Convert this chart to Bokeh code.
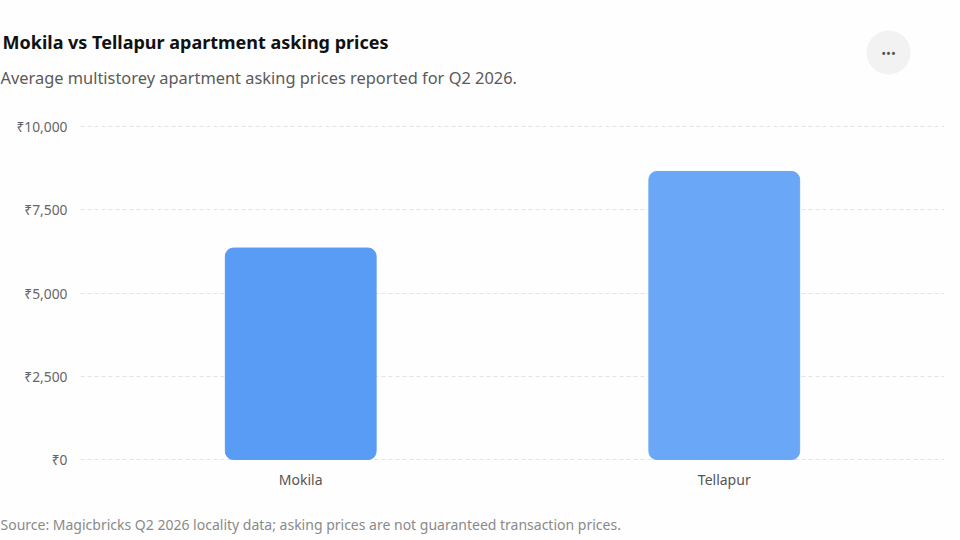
from bokeh.plotting import figure
from bokeh.layouts import column, row
from bokeh.models import ColumnDataSource, Label, FixedTicker, FactorRange, Range1d
from bokeh.embed import file_html
from bokeh.resources import INLINE

# ---- data ----
localities = ["Mokila", "Tellapur"]
asking_price = [6350, 8650]
bar_colors = ["#589cf5", "#6aa8f7"]
y_ticks = [0, 2500, 5000, 7500, 10000]
y_tick_labels = ["₹0", "₹2,500", "₹5,000", "₹7,500", "₹10,000"]

title_text = "Mokila vs Tellapur apartment asking prices"
subtitle_text = "Average multistorey apartment asking prices reported for Q2 2026."
source_text = "Source: Magicbricks Q2 2026 locality data; asking prices are not guaranteed transaction prices."

FONT = "Noto Sans"
BG = "#fefefe"
W = 960


def blank(height):
    f = figure(width=W, height=height, x_range=Range1d(0, W), y_range=Range1d(height, 0),
               output_backend="svg", toolbar_location=None, title=None,
               x_axis_location=None, y_axis_location=None,
               min_border=0, min_border_left=0, min_border_right=0,
               min_border_top=0, min_border_bottom=0)
    f.grid.grid_line_color = None
    f.outline_line_color = None
    f.background_fill_color = BG
    f.border_fill_color = BG
    return f


# ---- header: title, subtitle, menu button ----
HEADER_H = 104
header = blank(HEADER_H)
header.add_layout(Label(x=2, y=41, text=title_text, text_font=FONT, text_font_size="18px",
                        text_font_style="bold", text_color="#111111", text_baseline="middle"))
header.add_layout(Label(x=0, y=77, text=subtitle_text, text_font=FONT, text_font_size="16.4px",
                        text_color="#5a5a5a", text_baseline="middle"))
header.scatter(x=[888], y=[52], size=44, marker="circle", fill_color="#f2f2f2", line_color=None)
header.add_layout(Label(x=888, y=52, text="•••", text_font=FONT, text_font_size="13px",
                        text_color="#555555", text_align="center", text_baseline="middle"))

# ---- main chart ----
src = ColumnDataSource(dict(x=localities, top=asking_price, color=bar_colors))

p = figure(
    x_range=FactorRange(*localities, range_padding=0.02),
    y_range=Range1d(-30, 10030),
    width=W, height=392,
    output_backend="svg", toolbar_location=None, title=None,
    min_border_left=80, min_border_right=16, min_border_top=21, min_border_bottom=36,
)
p.background_fill_color = BG
p.border_fill_color = BG
p.outline_line_color = None

p.vbar(x="x", top="top", bottom=0, width=0.356, source=src, fill_color="color",
       line_color="color", border_radius=8)

p.yaxis.ticker = FixedTicker(ticks=y_ticks)
p.yaxis.major_label_overrides = {t: l for t, l in zip(y_ticks, y_tick_labels)}
for ax in (p.xaxis, p.yaxis):
    ax.axis_line_color = None
    ax.major_tick_line_color = None
    ax.minor_tick_line_color = None
    ax.major_tick_out = 0
    ax.major_tick_in = 0
    ax.minor_tick_out = 0
    ax.major_label_text_font = FONT
    ax.major_label_text_color = "#666666"
p.yaxis.major_label_text_font_size = "13.8px"
p.xaxis.major_label_text_font_size = "14px"
p.yaxis.major_label_standoff = 13
p.xaxis.major_label_standoff = 9
p.xaxis.major_label_text_color = "#555555"

p.xgrid.grid_line_color = None
p.ygrid.grid_line_color = "#e3e3e3"
p.ygrid.grid_line_dash = "4 3"
p.ygrid.grid_line_width = 1

# ---- footer: source note ----
FOOTER_H = 44
footer = blank(FOOTER_H)
footer.add_layout(Label(x=0, y=28, text=source_text, text_font=FONT, text_font_size="14px",
                        text_color="#8a8a8a", text_baseline="middle"))

layout = column(row(header), p, row(footer), spacing=0)
open("out.html", "w").write(file_html(layout, INLINE))
